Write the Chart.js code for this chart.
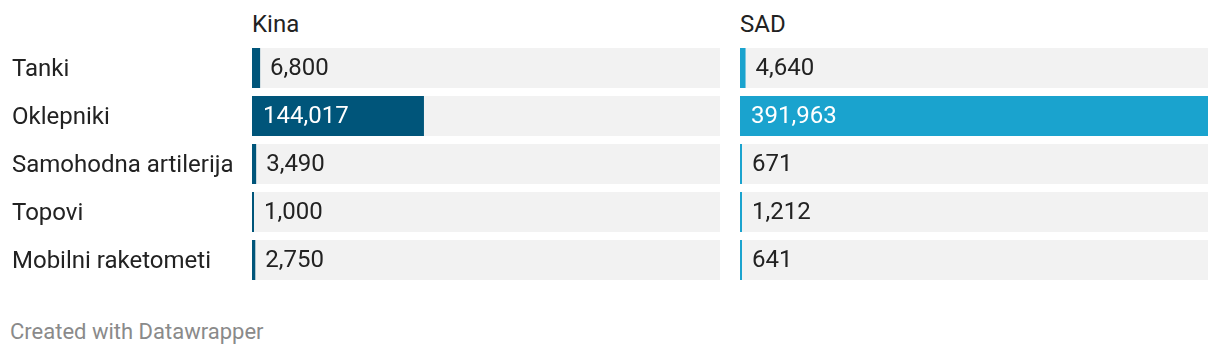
<!DOCTYPE HTML>
<html lang="sl">
<head>
    <meta charset="UTF-8">
    <title>Kina in SAD</title>
    <script src="https://cdn.jsdelivr.net/npm/chart.js"></script>
    <style>
        body { margin: 0; background: #fff; font-family: Roboto, sans-serif; }
        .wrap { position: relative; width: 1220px; height: 356px; }
        .head { position: absolute; top: 9px; font-size: 24px; line-height: 30px; color: #222; }
        .foot { position: absolute; left: 10px; top: 318px; font-size: 22px; line-height: 28px; color: #8a8a8a; }
    </style>
</head>
<body>
<div class="wrap">
    <div class="head" style="left:252px">Kina</div>
    <div class="head" style="left:740px">SAD</div>
    <div style="position:absolute;left:0;top:0;width:720px;height:300px"><canvas id="kinaChart"></canvas></div>
    <div style="position:absolute;left:740px;top:0;width:468px;height:300px"><canvas id="sadChart"></canvas></div>
    <div class="foot">Created with Datawrapper</div>
</div>

<script>
    // kategorije in vrednosti
    const categories = ['Tanki', 'Oklepniki', 'Samohodna artilerija', 'Topovi', 'Mobilni raketometi'];
    const kinaValues = [6800, 144017, 3490, 1000, 2750];
    const sadValues = [4640, 391963, 671, 1212, 641];

    const xMax = Math.max(...kinaValues, ...sadValues);
    const fullRow = categories.map(() => xMax);

    // napisi vrednosti na stolpcih
    const valueLabels = {
        id: 'valueLabels',
        afterDatasetsDraw(chart) {
            const ctx = chart.ctx;
            const meta = chart.getDatasetMeta(0);
            const values = chart.data.datasets[0].data;
            ctx.save();
            ctx.font = '24px Roboto, sans-serif';
            ctx.textBaseline = 'middle';
            ctx.textAlign = 'left';
            meta.data.forEach((bar, i) => {
                const txt = values[i].toLocaleString('en-US');
                const w = ctx.measureText(txt).width;
                const left = Math.min(bar.x, bar.base);
                const right = Math.max(bar.x, bar.base);
                if (right - left > w + 24) {
                    ctx.fillStyle = '#ffffff';
                    ctx.fillText(txt, left + 11, bar.y + 1);
                } else {
                    ctx.fillStyle = '#222222';
                    ctx.fillText(txt, right + 10, bar.y + 1);
                }
            });
            ctx.restore();
        }
    };

    function makeChart(id, values, color, showLabels) {
        const ctx = document.getElementById(id).getContext('2d');
        return new Chart(ctx, {
            type: 'bar',
            data: {
                labels: categories,
                datasets: [{
                    data: values,
                    backgroundColor: color,
                    grouped: false,
                    order: 1,
                    minBarLength: 2,
                    categoryPercentage: 40 / 48,
                    barPercentage: 1
                }, {
                    data: fullRow,
                    backgroundColor: '#f2f2f2',
                    grouped: false,
                    order: 2,
                    categoryPercentage: 40 / 48,
                    barPercentage: 1
                }]
            },
            options: {
                indexAxis: 'y',
                responsive: true,
                maintainAspectRatio: false,
                animation: false,
                layout: { padding: { top: 44, bottom: 16, left: showLabels ? 12 : 0, right: 0 } },
                plugins: { legend: { display: false }, tooltip: { enabled: false } },
                scales: {
                    x: { display: false, min: 0, max: xMax },
                    y: {
                        display: showLabels,
                        grid: { display: false },
                        border: { display: false },
                        afterFit: (scale) => { scale.width = showLabels ? 240 : 0; },
                        ticks: {
                            crossAlign: 'far',
                            color: '#222',
                            font: { family: 'Roboto', size: 24 },
                            padding: 0,
                            labelOffset: 2
                        }
                    }
                }
            },
            plugins: [valueLabels]
        });
    }

    makeChart('kinaChart', kinaValues, '#00557a', true);
    makeChart('sadChart', sadValues, '#1aa3ce', false);
</script>
</body>
</html>
